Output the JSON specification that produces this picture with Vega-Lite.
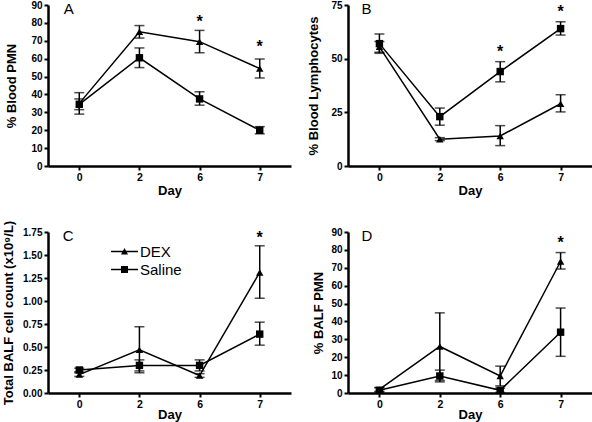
{
  "$schema": "https://vega.github.io/schema/vega-lite/v6.json",
  "padding": {"left": 2, "top": 0, "right": 0, "bottom": 0},
  "columns": 2,
  "spacing": {"row": 22, "column": 16},
  "datasets": {
    "vals": [
      {"panel": "A", "group": "DEX", "day": "0", "mean": 35, "lo": 29, "hi": 41},
      {"panel": "A", "group": "DEX", "day": "2", "mean": 75, "lo": 71.5, "hi": 78.5},
      {"panel": "A", "group": "DEX", "day": "6", "mean": 69.5, "lo": 63.3, "hi": 75.8},
      {"panel": "A", "group": "DEX", "day": "7", "mean": 54.5, "lo": 49.2, "hi": 59.8},
      {"panel": "A", "group": "Saline", "day": "0", "mean": 34.5, "lo": 31.5, "hi": 37.5},
      {"panel": "A", "group": "Saline", "day": "2", "mean": 60.5, "lo": 55, "hi": 66},
      {"panel": "A", "group": "Saline", "day": "6", "mean": 37.5, "lo": 34, "hi": 41.5},
      {"panel": "A", "group": "Saline", "day": "7", "mean": 20, "lo": 18, "hi": 22},
      {"panel": "B", "group": "DEX", "day": "0", "mean": 55.5, "lo": 53, "hi": 58},
      {"panel": "B", "group": "DEX", "day": "2", "mean": 12.5, "lo": 11.8, "hi": 13.2},
      {"panel": "B", "group": "DEX", "day": "6", "mean": 14, "lo": 9.5, "hi": 18.8},
      {"panel": "B", "group": "DEX", "day": "7", "mean": 29, "lo": 25.2, "hi": 33.2},
      {"panel": "B", "group": "Saline", "day": "0", "mean": 57, "lo": 52.5, "hi": 61.5},
      {"panel": "B", "group": "Saline", "day": "2", "mean": 23, "lo": 19, "hi": 27},
      {"panel": "B", "group": "Saline", "day": "6", "mean": 44, "lo": 39.2, "hi": 48.6},
      {"panel": "B", "group": "Saline", "day": "7", "mean": 64, "lo": 61, "hi": 67.2},
      {"panel": "C", "group": "DEX", "day": "0", "mean": 0.2, "lo": 0.18, "hi": 0.22},
      {"panel": "C", "group": "DEX", "day": "2", "mean": 0.47, "lo": 0.22, "hi": 0.72},
      {"panel": "C", "group": "DEX", "day": "6", "mean": 0.19, "lo": 0.17, "hi": 0.21},
      {"panel": "C", "group": "DEX", "day": "7", "mean": 1.31, "lo": 1.03, "hi": 1.6},
      {"panel": "C", "group": "Saline", "day": "0", "mean": 0.25, "lo": 0.23, "hi": 0.27},
      {"panel": "C", "group": "Saline", "day": "2", "mean": 0.3, "lo": 0.24, "hi": 0.36},
      {"panel": "C", "group": "Saline", "day": "6", "mean": 0.3, "lo": 0.24, "hi": 0.36},
      {"panel": "C", "group": "Saline", "day": "7", "mean": 0.64, "lo": 0.52, "hi": 0.77},
      {"panel": "D", "group": "DEX", "day": "0", "mean": 2, "lo": 1, "hi": 3},
      {"panel": "D", "group": "DEX", "day": "2", "mean": 26, "lo": 7, "hi": 44.8},
      {"panel": "D", "group": "DEX", "day": "6", "mean": 9.5, "lo": 4, "hi": 15},
      {"panel": "D", "group": "DEX", "day": "7", "mean": 73.5, "lo": 69.3, "hi": 78.5},
      {"panel": "D", "group": "Saline", "day": "0", "mean": 1.5, "lo": 0.5, "hi": 3},
      {"panel": "D", "group": "Saline", "day": "2", "mean": 9.5, "lo": 6.2, "hi": 12.8},
      {"panel": "D", "group": "Saline", "day": "6", "mean": 1.5, "lo": 0.3, "hi": 2.7},
      {"panel": "D", "group": "Saline", "day": "7", "mean": 34, "lo": 20.5, "hi": 47.5}
    ],
    "stars": [
      {"panel": "A", "day": "6", "y": 82.6},
      {"panel": "A", "day": "7", "y": 68.6},
      {"panel": "B", "day": "6", "y": 55.1},
      {"panel": "B", "day": "7", "y": 73.5},
      {"panel": "C", "day": "7", "y": 1.73},
      {"panel": "D", "day": "7", "y": 86.2}
    ],
    "letters": [
      {"panel": "A", "label": "A"},
      {"panel": "B", "label": "B"},
      {"panel": "C", "label": "C"},
      {"panel": "D", "label": "D"}
    ]
  },
  "concat": [
    {
      "width": 243, "height": 161,
      "encoding": {"x": {"field": "day", "type": "ordinal", "sort": ["0", "2", "6", "7"], "scale": {"type": "point", "padding": 0.52}, "axis": {"labelAngle": 0, "titlePadding": 2}, "title": "Day"}},
      "layer": [
        {"data": {"name": "vals"}, "transform": [{"filter": "datum.panel === 'A'"}],
         "mark": {"type": "line", "color": "black", "strokeWidth": 1.5},
         "encoding": {"y": {"field": "mean", "type": "quantitative", "title": "% Blood PMN", "scale": {"domain": [0, 90], "nice": false}, "axis": {"values": [0, 10, 20, 30, 40, 50, 60, 70, 80, 90], "tickCount": 12, "labelOverlap": false, "titlePadding": 12.5}}, "detail": {"field": "group"}}},
        {"data": {"name": "vals"}, "transform": [{"filter": "datum.panel === 'A'"}],
         "mark": {"type": "errorbar", "color": "black", "ticks": {"size": 10, "thickness": 1.5, "color": "black"}, "rule": {"strokeWidth": 1.5, "color": "black"}},
         "encoding": {"y": {"field": "lo", "type": "quantitative", "title": "% Blood PMN"}, "y2": {"field": "hi"}, "detail": {"field": "group"}}},
        {"data": {"name": "vals"}, "transform": [{"filter": "datum.panel === 'A'"}],
         "mark": {"type": "point", "filled": true, "color": "black", "opacity": 1, "size": 55},
         "encoding": {"y": {"field": "mean", "type": "quantitative", "title": "% Blood PMN"}, "shape": {"field": "group", "scale": {"domain": ["DEX", "Saline"], "range": ["triangle-up", "square"]}, "legend": null}}},
        {"data": {"name": "stars"}, "transform": [{"filter": "datum.panel === 'A'"}],
         "mark": {"type": "text", "text": "*", "fontSize": 16, "fontWeight": "bold", "color": "black", "baseline": "alphabetic", "dy": 9},
         "encoding": {"y": {"field": "y", "type": "quantitative", "title": "% Blood PMN"}}},
        {"data": {"name": "letters"}, "transform": [{"filter": "datum.panel === 'A'"}],
         "mark": {"type": "text", "fontSize": 15, "color": "black", "align": "left", "baseline": "top", "dx": -15.5, "dy": -3},
         "encoding": {"x": {"datum": "0", "type": "ordinal"}, "y": {"datum": 90, "type": "quantitative"}, "text": {"field": "label"}}}
      ]
    },
    {
      "width": 244, "height": 161,
      "encoding": {"x": {"field": "day", "type": "ordinal", "sort": ["0", "2", "6", "7"], "scale": {"type": "point", "padding": 0.52}, "axis": {"labelAngle": 0, "titlePadding": 2}, "title": "Day"}},
      "layer": [
        {"data": {"name": "vals"}, "transform": [{"filter": "datum.panel === 'B'"}],
         "mark": {"type": "line", "color": "black", "strokeWidth": 1.5},
         "encoding": {"y": {"field": "mean", "type": "quantitative", "title": "% Blood Lymphocytes", "scale": {"domain": [0, 75], "nice": false}, "axis": {"values": [0, 25, 50, 75], "tickCount": 12, "labelOverlap": false, "titlePadding": 10}}, "detail": {"field": "group"}}},
        {"data": {"name": "vals"}, "transform": [{"filter": "datum.panel === 'B'"}],
         "mark": {"type": "errorbar", "color": "black", "ticks": {"size": 10, "thickness": 1.5, "color": "black"}, "rule": {"strokeWidth": 1.5, "color": "black"}},
         "encoding": {"y": {"field": "lo", "type": "quantitative", "title": "% Blood Lymphocytes"}, "y2": {"field": "hi"}, "detail": {"field": "group"}}},
        {"data": {"name": "vals"}, "transform": [{"filter": "datum.panel === 'B'"}],
         "mark": {"type": "point", "filled": true, "color": "black", "opacity": 1, "size": 55},
         "encoding": {"y": {"field": "mean", "type": "quantitative", "title": "% Blood Lymphocytes"}, "shape": {"field": "group", "scale": {"domain": ["DEX", "Saline"], "range": ["triangle-up", "square"]}, "legend": null}}},
        {"data": {"name": "stars"}, "transform": [{"filter": "datum.panel === 'B'"}],
         "mark": {"type": "text", "text": "*", "fontSize": 16, "fontWeight": "bold", "color": "black", "baseline": "alphabetic", "dy": 9},
         "encoding": {"y": {"field": "y", "type": "quantitative", "title": "% Blood Lymphocytes"}}},
        {"data": {"name": "letters"}, "transform": [{"filter": "datum.panel === 'B'"}],
         "mark": {"type": "text", "fontSize": 15, "color": "black", "align": "left", "baseline": "top", "dx": -18, "dy": -3},
         "encoding": {"x": {"datum": "0", "type": "ordinal"}, "y": {"datum": 75, "type": "quantitative"}, "text": {"field": "label"}}}
      ]
    },
    {
      "width": 243, "height": 161,
      "resolve": {"scale": {"shape": "independent"}},
      "encoding": {"x": {"field": "day", "type": "ordinal", "sort": ["0", "2", "6", "7"], "scale": {"type": "point", "padding": 0.52}, "axis": {"labelAngle": 0, "titlePadding": -1}, "title": "Day"}},
      "layer": [
        {"data": {"name": "vals"}, "transform": [{"filter": "datum.panel === 'C'"}],
         "mark": {"type": "line", "color": "black", "strokeWidth": 1.5},
         "encoding": {"y": {"field": "mean", "type": "quantitative", "title": "Total BALF cell count (x10⁹/L)", "scale": {"domain": [0, 1.75], "nice": false}, "axis": {"values": [0, 0.25, 0.5, 0.75, 1, 1.25, 1.5, 1.75], "tickCount": 12, "labelOverlap": false, "format": ".2f", "titlePadding": 7.3}}, "detail": {"field": "group"}}},
        {"data": {"name": "vals"}, "transform": [{"filter": "datum.panel === 'C'"}],
         "mark": {"type": "errorbar", "color": "black", "ticks": {"size": 10, "thickness": 1.5, "color": "black"}, "rule": {"strokeWidth": 1.5, "color": "black"}},
         "encoding": {"y": {"field": "lo", "type": "quantitative", "title": "Total BALF cell count (x10⁹/L)"}, "y2": {"field": "hi"}, "detail": {"field": "group"}}},
        {"data": {"name": "vals"}, "transform": [{"filter": "datum.panel === 'C'"}],
         "mark": {"type": "point", "filled": true, "color": "black", "opacity": 1, "size": 55},
         "encoding": {"y": {"field": "mean", "type": "quantitative", "title": "Total BALF cell count (x10⁹/L)"}, "shape": {"field": "group", "scale": {"domain": ["DEX", "Saline"], "range": ["triangle-up", "square"]}, "legend": null}}},
        {"data": {"name": "vals"}, "transform": [{"filter": "datum.panel === 'C'"}],
         "mark": {"type": "point", "filled": true, "color": "black", "opacity": 0},
         "encoding": {"y": {"field": "mean", "type": "quantitative", "title": "Total BALF cell count (x10⁹/L)"},
           "shape": {"field": "group", "type": "nominal", "scale": {"domain": ["DEX", "Saline"], "range": ["M-1.93,-0.1L1.93,-0.1L1.93,0.1L-1.93,0.1ZM0,-0.5L0.5,0.43L-0.5,0.43Z", "M-1.93,-0.1L1.93,-0.1L1.93,0.1L-1.93,0.1ZM-0.5,-0.5L0.5,-0.5L0.5,0.5L-0.5,0.5Z"]},
             "legend": {"orient": "none", "legendX": 69, "legendY": 12, "title": null, "padding": 0, "symbolSize": 196, "symbolOpacity": 1, "symbolFillColor": "black", "symbolStrokeColor": "black", "symbolStrokeWidth": 0, "labelFontSize": 15, "labelColor": "black", "labelOffset": 8, "rowPadding": 2}}}},
        {"data": {"name": "stars"}, "transform": [{"filter": "datum.panel === 'C'"}],
         "mark": {"type": "text", "text": "*", "fontSize": 16, "fontWeight": "bold", "color": "black", "baseline": "alphabetic", "dy": 9},
         "encoding": {"y": {"field": "y", "type": "quantitative", "title": "Total BALF cell count (x10⁹/L)"}}},
        {"data": {"name": "letters"}, "transform": [{"filter": "datum.panel === 'C'"}],
         "mark": {"type": "text", "fontSize": 15, "color": "black", "align": "left", "baseline": "top", "dx": -16.5, "dy": -3},
         "encoding": {"x": {"datum": "0", "type": "ordinal"}, "y": {"datum": 1.75, "type": "quantitative"}, "text": {"field": "label"}}}
      ]
    },
    {
      "width": 244, "height": 161,
      "encoding": {"x": {"field": "day", "type": "ordinal", "sort": ["0", "2", "6", "7"], "scale": {"type": "point", "padding": 0.52}, "axis": {"labelAngle": 0, "titlePadding": -1}, "title": "Day"}},
      "layer": [
        {"data": {"name": "vals"}, "transform": [{"filter": "datum.panel === 'D'"}],
         "mark": {"type": "line", "color": "black", "strokeWidth": 1.5},
         "encoding": {"y": {"field": "mean", "type": "quantitative", "title": "% BALF PMN", "scale": {"domain": [0, 90], "nice": false}, "axis": {"values": [0, 10, 20, 30, 40, 50, 60, 70, 80, 90], "tickCount": 12, "labelOverlap": false, "titlePadding": 5.3}}, "detail": {"field": "group"}}},
        {"data": {"name": "vals"}, "transform": [{"filter": "datum.panel === 'D'"}],
         "mark": {"type": "errorbar", "color": "black", "ticks": {"size": 10, "thickness": 1.5, "color": "black"}, "rule": {"strokeWidth": 1.5, "color": "black"}},
         "encoding": {"y": {"field": "lo", "type": "quantitative", "title": "% BALF PMN"}, "y2": {"field": "hi"}, "detail": {"field": "group"}}},
        {"data": {"name": "vals"}, "transform": [{"filter": "datum.panel === 'D'"}],
         "mark": {"type": "point", "filled": true, "color": "black", "opacity": 1, "size": 55},
         "encoding": {"y": {"field": "mean", "type": "quantitative", "title": "% BALF PMN"}, "shape": {"field": "group", "scale": {"domain": ["DEX", "Saline"], "range": ["triangle-up", "square"]}, "legend": null}}},
        {"data": {"name": "stars"}, "transform": [{"filter": "datum.panel === 'D'"}],
         "mark": {"type": "text", "text": "*", "fontSize": 16, "fontWeight": "bold", "color": "black", "baseline": "alphabetic", "dy": 9},
         "encoding": {"y": {"field": "y", "type": "quantitative", "title": "% BALF PMN"}}},
        {"data": {"name": "letters"}, "transform": [{"filter": "datum.panel === 'D'"}],
         "mark": {"type": "text", "fontSize": 15, "color": "black", "align": "left", "baseline": "top", "dx": -18, "dy": -3},
         "encoding": {"x": {"datum": "0", "type": "ordinal"}, "y": {"datum": 90, "type": "quantitative"}, "text": {"field": "label"}}}
      ]
    }
  ],
  "config": {
    "font": "Liberation Sans",
    "view": {"stroke": null},
    "axis": {"grid": false, "domainColor": "black", "domainWidth": 2.5, "tickColor": "black", "tickWidth": 2, "tickSize": 4,
      "labelColor": "black", "labelFont": "Liberation Sans", "labelFontWeight": "bold", "labelFontSize": 10, "labelPadding": 2, "labelOverlap": false,
      "titleColor": "black", "titleFont": "Liberation Sans", "titleFontWeight": "bold", "titleFontSize": 13},
    "axisX": {"labelFontSize": 10.5, "labelPadding": 2},
    "legend": {"labelFont": "Liberation Sans"}
  }
}
